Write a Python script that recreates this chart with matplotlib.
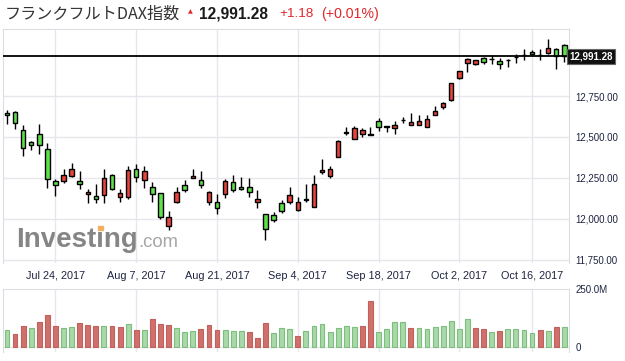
import matplotlib
matplotlib.use('Agg')
import matplotlib.pyplot as plt
import matplotlib.transforms as mtransforms
from matplotlib.patches import Rectangle
import numpy as np
import pandas as pd

# 日足 2017-07-14 .. 2017-10-20 (10/3 は休場)
dates = pd.bdate_range('2017-07-14', '2017-10-20')
dates = dates[dates != pd.Timestamp('2017-10-03')]

opens = [12646, 12652, 12541, 12468, 12516, 12425, 12232, 12230, 12260, 12232,
         12150, 12138, 12144, 12266, 12132, 12134, 12303, 12236, 12193, 12156,
         11959, 12102, 12205, 12248, 12236, 12102, 12103, 12154, 12224, 12193,
         12193, 12102, 12028, 12022, 12095, 12102, 12053, 12116, 12071, 12285,
         12260, 12380, 12526, 12486, 12520, 12515, 12597, 12562, 12553, 12602,
         12571, 12571, 12559, 12632, 12681, 12724, 12862, 12953, 12947, 12982,
         12975, 12962, 12969, 12985, 12997, 13018, 12999, 13012, 13035, 13063]
highs = [12665, 12657, 12573, 12475, 12579, 12465, 12242, 12303, 12340, 12293,
         12181, 12211, 12303, 12272, 12181, 12323, 12335, 12323, 12224, 12158,
         12047, 12197, 12238, 12303, 12293, 12170, 12152, 12242, 12268, 12256,
         12250, 12175, 12028, 12041, 12114, 12195, 12132, 12213, 12266, 12366,
         12323, 12482, 12559, 12567, 12553, 12561, 12616, 12567, 12597, 12620,
         12646, 12634, 12634, 12689, 12713, 12831, 12904, 12980, 12968, 12990,
         13000, 12980, 12976, 13006, 13035, 13031, 13035, 13096, 13041, 13065]
lows = [12579, 12547, 12386, 12420, 12398, 12191, 12142, 12217, 12254, 12181,
        12099, 12099, 12096, 12177, 12102, 12124, 12224, 12187, 12102, 11998,
        11935, 12099, 12163, 12248, 12187, 12084, 12029, 12126, 12163, 12177,
        12136, 12069, 11874, 11980, 12035, 12090, 12051, 12102, 12071, 12272,
        12248, 12380, 12514, 12486, 12502, 12510, 12538, 12532, 12520, 12587,
        12571, 12571, 12559, 12632, 12672, 12721, 12856, 12898, 12941, 12947,
        12947, 12917, 12929, 12953, 12970, 13004, 12971, 13006, 12916, 12959]
closes = [12632, 12587, 12431, 12449, 12451, 12242, 12205, 12266, 12303, 12211,
          12162, 12120, 12248, 12181, 12156, 12297, 12254, 12293, 12150, 12012,
          12010, 12163, 12175, 12260, 12205, 12163, 12065, 12232, 12175, 12181,
          12167, 12120, 11941, 11996, 12047, 12144, 12102, 12122, 12211, 12297,
          12303, 12476, 12531, 12553, 12541, 12521, 12561, 12565, 12573, 12605,
          12590, 12596, 12608, 12657, 12705, 12827, 12900, 12976, 12968, 12956,
          12977, 12947, 12971, 12988, 13000, 13004, 12997, 13041, 12994, 12991.28]

# 出来高 (百万株) と前日比の上げ(1)/下げ(0)
volumes = [73, 56, 91, 80, 108, 139, 91, 80, 85, 104, 95, 91, 91, 91, 86, 98,
           73, 73, 121, 99, 95, 80, 63, 67, 77, 95, 73, 72, 69, 67, 64, 38,
           104, 58, 80, 76, 47, 67, 89, 98, 63, 80, 89, 85, 89, 199, 63, 76,
           107, 107, 80, 80, 76, 85, 89, 111, 76, 120, 80, 76, 63, 67, 76, 76,
           72, 58, 72, 67, 85, 85]
vol_up = [1, 0, 0, 1, 0, 0, 0, 1, 1, 0, 0, 0, 1, 0, 0, 1, 0, 1, 0, 0,
          0, 1, 1, 1, 0, 0, 0, 1, 1, 1, 0, 0, 0, 1, 1, 1, 0, 1, 1, 1,
          1, 1, 1, 1, 0, 0, 1, 1, 1, 1, 0, 1, 1, 1, 1, 1, 1, 1, 0, 0,
          1, 0, 1, 1, 1, 1, 0, 1, 0, 1]

label_days = ['2017-07-24', '2017-08-07', '2017-08-21', '2017-09-04',
              '2017-09-18', '2017-10-02', '2017-10-16']
price_ticks = [11750, 12000, 12250, 12500, 12750]

last_price = closes[-1]
change = 1.18
change_pct = 0.01

W, H = 625, 361


def box(l, t, r, b):
    return [l / W, 1 - b / H, (r - l) / W, (b - t) / H]


grid_col = '#e6e6ec'
label_col = '#1e2340'
font = 'Liberation Sans'

fig = plt.figure(figsize=(W / 100, H / 100), dpi=100)

x = np.arange(len(dates))
o = np.array(opens, dtype=float)
c = np.array(closes, dtype=float)
grid_idx = [dates.get_loc(pd.Timestamp(d)) for d in label_days]

# ---- ローソク足 ----
ax = fig.add_axes(box(3, 29, 569, 263))
ax.patch.set_alpha(0)
ax.set_xlim(-0.495, 69.58)
ax.set_ylim(11731.6, 13158.6)

for g in grid_idx:
    ax.axvline(g, color=grid_col, lw=1, zorder=0)
for p in price_ticks:
    ax.axhline(p, color=grid_col, lw=1, zorder=0)

ax.vlines(x, lows, highs, color='black', lw=1, zorder=2)
body_col = np.where(c >= o, '#e8433c', '#5ee04a')
ax.bar(x, np.maximum(np.abs(c - o), 1.5), bottom=np.minimum(o, c), width=0.55,
       color=body_col, edgecolor='black', linewidth=1, zorder=3)

ax.axhline(last_price, color='black', lw=1.3, zorder=4)

ax.yaxis.tick_right()
ax.set_yticks(price_ticks)
ax.set_yticklabels([f'{p:,.2f}' for p in price_ticks], fontsize=7,
                   color=label_col, family=font)
ax.tick_params(axis='y', length=0, pad=4.5)
ax.set_xticks([])
for s in ['left', 'top', 'right']:
    ax.spines[s].set_color('#dcdce2')
ax.spines['bottom'].set_visible(False)

trans = mtransforms.blended_transform_factory(ax.transAxes, ax.transData)
ax.text(1.0, last_price, f'{last_price:,.2f}', transform=trans, ha='left',
        va='center', fontsize=7, fontweight='bold', color='white', family=font,
        bbox=dict(boxstyle='square,pad=0.25', fc='#111111', ec='#666666', lw=0.8),
        zorder=6, clip_on=False)

ytxt = (263 - 276) / (263 - 29)
for g, d in zip(grid_idx, label_days):
    d = pd.Timestamp(d)
    ax.text(g, ytxt, f'{d:%b} {d.day}, {d.year}',
            transform=mtransforms.blended_transform_factory(ax.transData, ax.transAxes),
            ha='center', va='center', fontsize=7.8, color=label_col, family=font,
            clip_on=False)

# ---- 出来高 ----
axv = fig.add_axes(box(3, 289, 569, 352))
axv.patch.set_alpha(0)
axv.set_xlim(ax.get_xlim())
axv.set_ylim(-23.9, 250)
for g in grid_idx:
    axv.axvline(g, color=grid_col, lw=1, zorder=0)
axv.axhline(0, color=grid_col, lw=1, zorder=0)

up = np.array(vol_up) == 1
axv.bar(x, volumes, width=0.6,
        color=np.where(up, '#a9d8a9', '#d0706c'),
        edgecolor=np.where(up, '#7dbd7d', '#c2605c'), linewidth=0.8, zorder=2)
axv.yaxis.tick_right()
axv.set_yticks([0, 250])
axv.set_yticklabels(['0', '250.0M'], fontsize=7, color=label_col, family=font)
axv.tick_params(axis='y', length=0, pad=4.5)
axv.set_xticks([])
for s in ['left', 'top', 'right']:
    axv.spines[s].set_color('#dcdce2')
axv.spines['bottom'].set_visible(False)

# ---- ヘッダー ----
fig.text(5 / W, 1 - 14 / H, 'フランクフルトDAX指数', fontsize=11.6, color='#333333',
         family=['Noto Sans CJK JP', 'DejaVu Sans'], va='center', ha='left')
fig.text(190 / W, 1 - 12 / H, '▲', fontsize=4.5, color='#e3262a',
         family='DejaVu Sans', va='center', ha='center')
fig.text(199 / W, 1 - 14 / H, f'{last_price:,.2f}', fontsize=11.2,
         fontweight='bold', color='#1a1a1a', family=font, va='center')
fig.text(279 / W, 1 - 14 / H, f'+{change:.2f}', fontsize=9.7, color='#e0262b',
         family=font, va='center')
fig.text(321 / W, 1 - 14 / H, f'(+{change_pct:.2f}%)', fontsize=10.2,
         color='#e0262b', family=font, va='center')

# ---- ロゴ ----
fig.text(16 / W, 1 - 246.7 / H, 'Investing', fontsize=20, fontweight='bold',
         color='#858585', family=font, va='baseline', zorder=-1)
fig.text(138 / W, 1 - 246.7 / H, '.com', fontsize=13.3, color='#a6a6a6',
         family=font, va='baseline', zorder=-1)
fig.patches.append(Rectangle(((97.5) / W, 1 - 230 / H), 5 / W, 4.5 / H,
                             transform=fig.transFigure, color='#f0b060',
                             zorder=-0.5))

fig.savefig('out.png', dpi=100)
